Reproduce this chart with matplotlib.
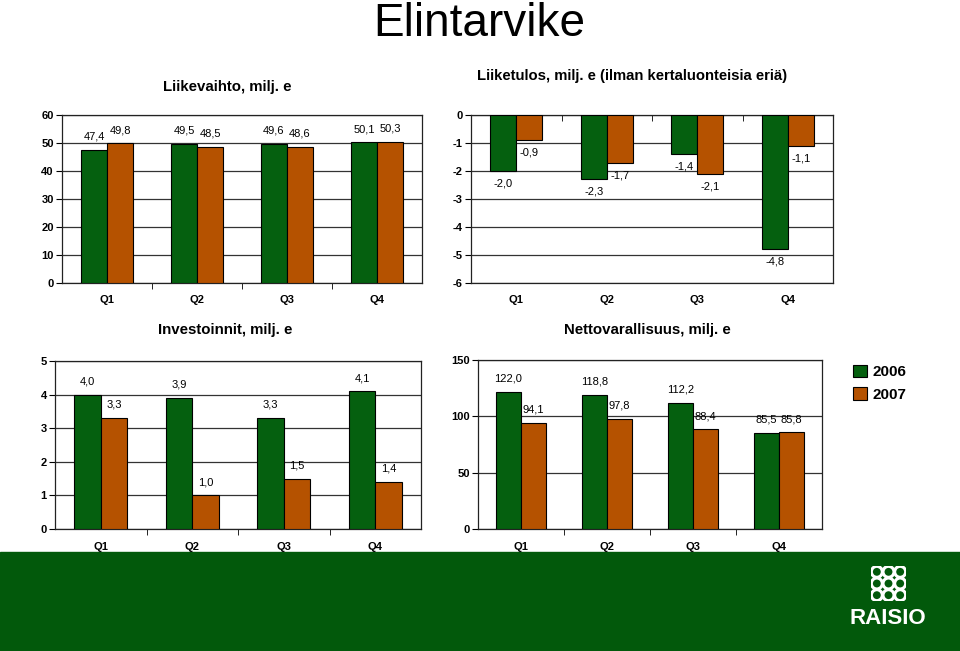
import numpy as np
import matplotlib
matplotlib.use("Agg")
import matplotlib.pyplot as plt
from matplotlib.patches import Rectangle, Circle

plt.rcParams["font.family"] = ["Liberation Sans", "DejaVu Sans"]

quarters = ["Q1", "Q2", "Q3", "Q4"]
years = ["2006", "2007"]

sales_2006 = [47.4, 49.5, 49.6, 50.1]
sales_2007 = [49.8, 48.5, 48.6, 50.3]

ebit_2006 = [-2.0, -2.3, -1.4, -4.8]
ebit_2007 = [-0.9, -1.7, -2.1, -1.1]

capex_2006 = [4.0, 3.9, 3.3, 4.1]
capex_2007 = [3.3, 1.0, 1.5, 1.4]

assets_2006 = [122.0, 118.8, 112.2, 85.5]
assets_2007 = [94.1, 97.8, 88.4, 85.8]

GREEN = "#05600f"
ORANGE = "#b55200"
BAND = "#02590b"

W, H = 960, 651
fig = plt.figure(figsize=(9.6, 6.51), dpi=100)


def px_axes(left, top, right, bottom):
    return fig.add_axes([left / W, 1 - bottom / H, (right - left) / W, (bottom - top) / H])


def fmt(v):
    return f"{v:.1f}".replace(".", ",")


def draw_panel(ax, a, b, ylim, step, negative=False):
    x = np.arange(len(quarters))
    w = 0.29
    bars_a = ax.bar(x - w / 2, a, w, color=GREEN, edgecolor="black", linewidth=0.8, zorder=3, label=years[0])
    bars_b = ax.bar(x + w / 2, b, w, color=ORANGE, edgecolor="black", linewidth=0.8, zorder=3, label=years[1])
    ax.set_xlim(-0.5, len(quarters) - 0.5)
    ax.set_ylim(*ylim)
    ax.set_yticks(np.arange(ylim[0], ylim[1] + step / 2, step))
    ax.yaxis.grid(True, color="#333333", linewidth=0.9, zorder=0)
    ax.set_xticks(x)
    ax.set_xticklabels(quarters)
    ax.set_xticks(np.arange(0.5, len(quarters) - 0.5, 1), minor=True)
    ax.tick_params(axis="x", which="major", length=0, pad=9)
    ax.tick_params(axis="y", length=4, pad=2, direction="out")
    if negative:
        ax.tick_params(axis="x", which="minor", length=4, top=True, bottom=False, direction="in")
    else:
        ax.tick_params(axis="x", which="minor", length=4, direction="out")
    ax.set_yticklabels([f"{int(t)}" for t in ax.get_yticks()])
    for lab in ax.get_xticklabels() + ax.get_yticklabels():
        lab.set_fontsize(8)
        lab.set_fontweight("bold")
    for s in ax.spines.values():
        s.set_linewidth(0.9)
        s.set_color("#222222")
    dy = -9 if negative else 9.5
    for bars, vals in ((bars_a, a), (bars_b, b)):
        for r, v in zip(bars, vals):
            ax.annotate(fmt(v), (r.get_x() + r.get_width() / 2, v), xytext=(0, dy),
                        textcoords="offset points", ha="center", va="center", fontsize=8)
    return bars_a, bars_b


ax1 = px_axes(62, 114.7, 422, 282.7)
draw_panel(ax1, sales_2006, sales_2007, (0, 60), 10)

ax2 = px_axes(471, 115, 833, 283)
draw_panel(ax2, ebit_2006, ebit_2007, (-6, 0), 1, negative=True)

ax3 = px_axes(55, 361, 421, 529)
draw_panel(ax3, capex_2006, capex_2007, (0, 5), 1)

ax4 = px_axes(478, 360, 822, 529)
bars_a, bars_b = draw_panel(ax4, assets_2006, assets_2007, (0, 150), 50)

fig.text(479 / W, 1 - 36 / H, "Elintarvike", ha="center", va="baseline", fontsize=33)
fig.text(227 / W, 1 - 86.5 / H, "Liikevaihto, milj. e", ha="center", va="center", fontsize=10.8, fontweight="bold")
fig.text(477 / W, 1 - 76 / H, "Liiketulos, milj. e (ilman kertaluonteisia eriä)", ha="left", va="center",
         fontsize=10.7, fontweight="bold")
fig.text(225 / W, 1 - 330 / H, "Investoinnit, milj. e", ha="center", va="center", fontsize=10.8, fontweight="bold")
fig.text(647 / W, 1 - 330 / H, "Nettovarallisuus, milj. e", ha="center", va="center", fontsize=10.8, fontweight="bold")

leg = fig.legend([bars_a, bars_b], years, loc="upper left", bbox_to_anchor=(839 / W, 1 - 351 / H),
                 frameon=False, handlelength=0.9, handleheight=0.9, handletextpad=0.4, labelspacing=0.5,
                 prop={"size": 11, "weight": "bold"})

# bottom band with logo
fig.patches.append(Rectangle((0, 0), 1, 1 - 552 / H, transform=fig.transFigure, color=BAND, zorder=-1))

logo = px_axes(871, 566, 906, 601)
logo.set_zorder(5)
logo.set_xlim(0, 3)
logo.set_ylim(0, 3)
logo.axis("off")
for i in range(3):
    for j in range(3):
        logo.add_patch(Circle((i + 0.5, j + 0.5), 0.47, fill=False, edgecolor="white", linewidth=2.2))
fig.text(888 / W, 1 - 619 / H, "RAISIO", ha="center", va="center", fontsize=16, fontweight="bold", color="white")

fig.savefig("out.png", dpi=100)
